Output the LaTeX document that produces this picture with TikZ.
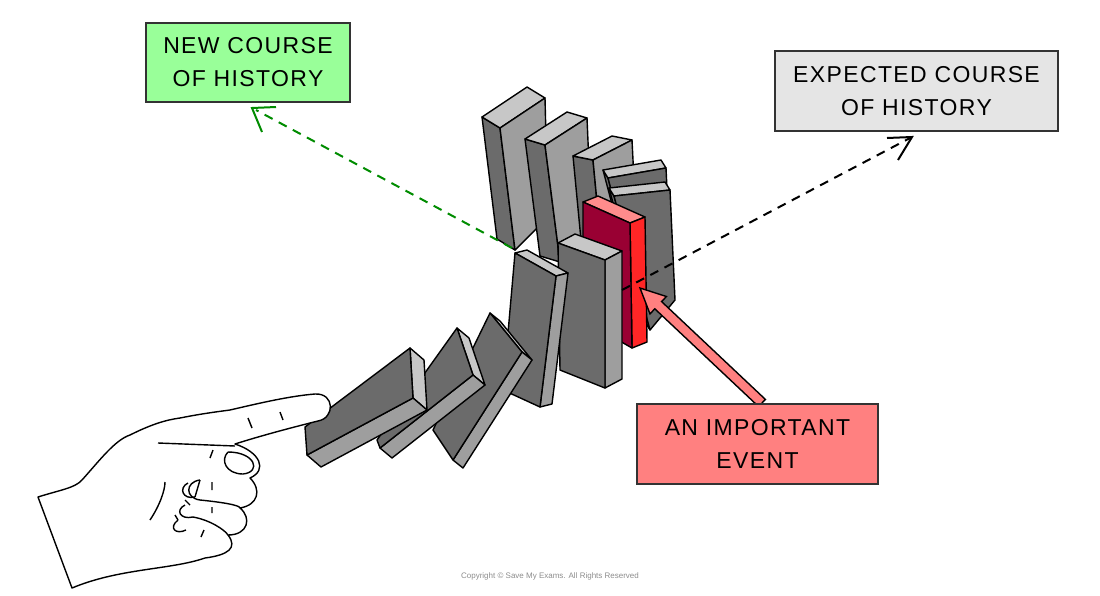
\documentclass[tikz,border=0pt]{standalone}
\usepackage{fontspec}
\setmainfont{Liberation Sans}
\newfontfamily\lblfont[LetterSpace=6]{Liberation Sans}
\usetikzlibrary{calc}
\newcommand\face[4]{\filldraw[#4] #1 -- #2 -- ($#2+#3$) -- ($#1+#3$) -- cycle;}
\begin{document}
\begin{tikzpicture}[x=1pt,y=-1pt,line width=1.4pt,
  dk/.style={fill=black!58,draw=black,line join=round},
  md/.style={fill=black!38,draw=black,line join=round},
  lt/.style={fill=black!22,draw=black,line join=round},
  lbl/.style={draw=black!80,line width=1.5pt,font=\lblfont\fontsize{23}{33}\selectfont,align=center,inner sep=0pt}]
\path[use as bounding box] (0,0) rectangle (1100,595);
% back dominoes
\face{(500,128)}{(515,250)}{(-18,-11)}{dk}\face{(500,128)}{(545,98)}{(-18,-11)}{lt}
\filldraw[md] (500,128)--(545,98)--(548,217)--(515,250)--cycle;
\face{(545,145)}{(560,262)}{(-20,-6)}{dk}\face{(545,145)}{(587,118)}{(-20,-6)}{lt}
\filldraw[md] (545,145)--(587,118)--(592,235)--(560,262)--cycle;
\face{(593,160)}{(603,265)}{(-20,-4)}{dk}\face{(593,160)}{(632,140)}{(-20,-4)}{lt}
\filldraw[md] (593,160)--(632,140)--(637,240)--(603,265)--cycle;
\face{(608,178)}{(640,300)}{(-5,-8)}{dk}\face{(608,178)}{(666,168)}{(-5,-8)}{lt}
\filldraw[dk] (608,178)--(666,168)--(672,295)--(640,300)--cycle;
\face{(614,196)}{(650,330)}{(-5,-8)}{dk}\face{(614,196)}{(670,190)}{(-5,-8)}{lt}
\filldraw[dk] (614,196)--(670,190)--(675,300)--(650,330)--cycle;
% red domino
\face{(583,202)}{(630,223)}{(15,-6)}{fill=red!45!white,draw=black,line join=round}
\face{(630,223)}{(632,348)}{(15,-6)}{fill=red!85!white,draw=black,line join=round}
\filldraw[fill=purple!80!black,draw=black,line join=round] (583,202)--(630,223)--(632,348)--(583,320)--cycle;
% front standing
\face{(558,243)}{(605,260)}{(17,-9)}{lt}\face{(605,260)}{(605,388)}{(17,-9)}{md}
\filldraw[dk] (558,243)--(605,260)--(605,388)--(560,370)--cycle;
% leaning
\face{(515,253)}{(556,276)}{(12,-3)}{lt}\face{(556,276)}{(540,407)}{(12,-3)}{md}
\filldraw[dk] (503,390)--(515,253)--(556,276)--(540,407)--cycle;
% falling dominoes
\face{(490,313)}{(522,352)}{(10,8)}{lt}\face{(453,460)}{(522,352)}{(10,8)}{md}
\filldraw[dk] (433,430)--(490,313)--(522,352)--(453,460)--cycle;
\face{(457,328)}{(473,375)}{(12,10)}{lt}\face{(380,448)}{(473,375)}{(12,10)}{md}
\filldraw[dk] (377,440)--(457,328)--(473,375)--(380,448)--cycle;
\face{(410,348)}{(413,398)}{(14,12)}{lt}\face{(307,455)}{(413,398)}{(14,12)}{md}
\filldraw[dk] (305,427)--(410,348)--(413,398)--(307,455)--cycle;
% hand
\filldraw[fill=white,draw=black,line join=round] (38,497) .. controls (60,490) and (75,488) .. (82,480)
 .. controls (100,460) and (115,440) .. (130,435) .. controls (150,425) and (165,420) .. (180,418)
 .. controls (200,414) and (215,412) .. (230,410) .. controls (260,403) and (290,396) .. (315,394)
 .. controls (335,393) and (335,418) .. (318,421) .. controls (290,428) and (260,436) .. (235,444)
 .. controls (260,452) and (268,470) .. (250,478) .. controls (262,490) and (258,505) .. (240,508)
 .. controls (252,518) and (248,535) .. (228,535) .. controls (238,548) and (228,555) .. (205,558)
 .. controls (170,570) and (120,568) .. (72,588) -- cycle;
\draw (158,443) -- (235,446);
\draw (228,452) .. controls (220,460) and (226,474) .. (243,474) .. controls (262,472) and (255,452) .. (228,452);
\draw (200,480) .. controls (185,482) and (185,498) .. (200,500) .. controls (220,502) and (240,505) .. (240,508);
\draw (188,483) .. controls (178,488) and (183,500) .. (195,497) (195,497) -- (200,480);
\draw (185,505) .. controls (175,510) and (180,520) .. (193,517) .. controls (210,520) and (225,530) .. (228,535);
\draw (178,520) .. controls (168,528) and (176,535) .. (186,530);
\draw (185,500) -- (190,505) (175,515) -- (178,520);
\draw (150,520) .. controls (160,505) and (165,490) .. (165,482);
\draw (248,418) -- (252,428) (280,412) -- (283,420) (213,450) -- (210,458) (212,482) -- (212,490) (212,507) -- (212,513) (204,530) -- (201,537);
% arrows
\draw[green!55!black,line width=2pt,dash pattern=on 9pt off 7pt] (512,248) -- (256,110);
\draw[green!55!black,line width=2pt] (262,132) -- (252,108) -- (276,107);
\draw[black,line width=2pt,dash pattern=on 9pt off 7pt] (622,290) -- (910,138);
\draw[black,line width=2pt] (887,138) -- (912,137) -- (898,160);
\filldraw[fill=red!50!white,draw=black,line join=miter] (640,288) -- (666.4,296.5) -- (661.6,301.6) -- (765.4,399.4) -- (758.6,406.6) -- (654.8,308.8) -- (650.0,313.9) -- cycle;
% labels
\node[lbl,fill=green!40!white,minimum width=204pt,minimum height=79pt] (n) at (248,62.5) {NEW COURSE\\OF HISTORY};
\node[lbl,fill=black!10,minimum width=283pt,minimum height=80pt] (e) at (916.5,91) {EXPECTED COURSE\\OF HISTORY};
\node[lbl,fill=red!50!white,minimum width=241pt,minimum height=80pt] (i) at (757.5,444) {AN IMPORTANT\\EVENT};
\node[text=black!45,font=\fontsize{8}{9}\selectfont] (c) at (550,576) {Copyright © Save My Exams. All Rights Reserved};
\end{tikzpicture}
\end{document}
